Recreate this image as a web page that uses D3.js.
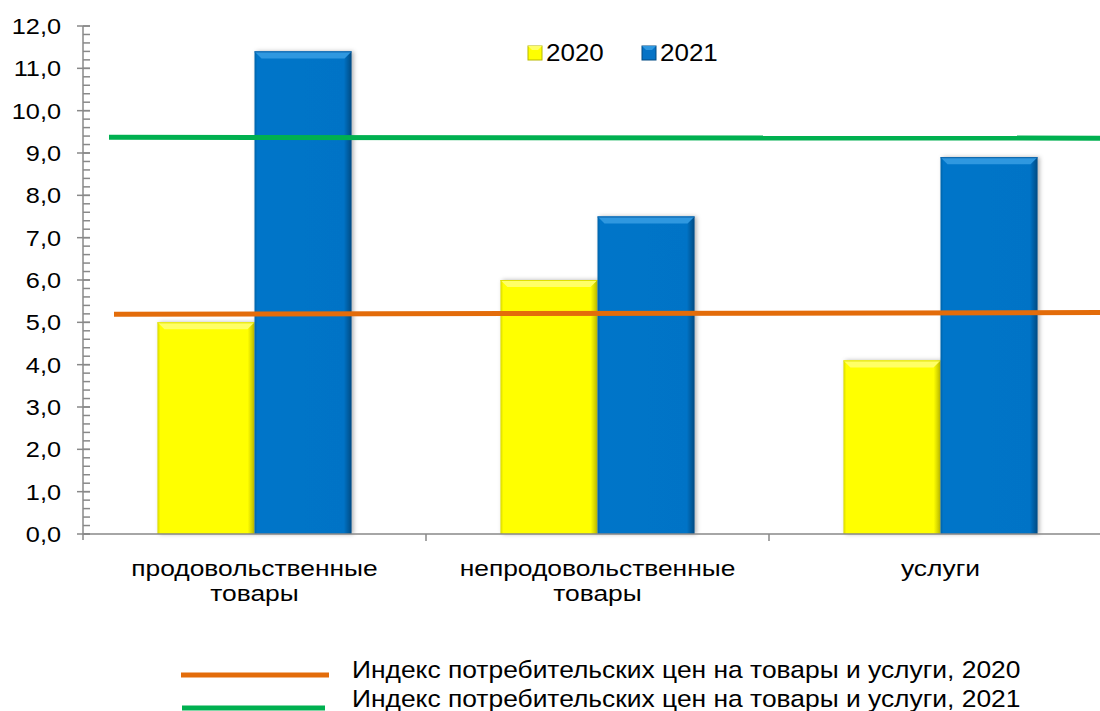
<!DOCTYPE html>
<html>
<head>
<meta charset="utf-8">
<script src="https://cdn.jsdelivr.net/npm/d3@7"></script>
<style>
  html, body { margin: 0; padding: 0; background: #fff; }
  svg { display: block; }
  text { font-family: "Liberation Sans", Arial, sans-serif; fill: #000; }
</style>
</head>
<body>
<svg id="chart" width="1100" height="711"></svg>
<script>
// ---- data ----
const categories = [["продовольственные", "товары"], ["непродовольственные", "товары"], ["услуги"]];
const seriesNames = ["2020", "2021"];
const values2020 = [5.0, 6.0, 4.1];
const values2021 = [11.4, 7.5, 8.9];
const cpi2020 = [5.19, 5.23];   // start / end of the reference line
const cpi2021 = [9.37, 9.35];
const yTicks = [0, 1, 2, 3, 4, 5, 6, 7, 8, 9, 10, 11, 12];
const lineLegend = ["Индекс потребительских цен на товары и услуги, 2020",
                    "Индекс потребительских цен на товары и услуги, 2021"];

// ---- layout ----
const svg = d3.select("#chart");
const W = 1100, H = 711;
const x0 = 83, x1 = 1112, yTop = 26, yBot = 534;

const y = d3.scaleLinear().domain([0, 12]).range([yBot, yTop]);
const catIdx = categories.map((d, i) => i);
const x = d3.scaleBand().domain(catIdx).range([x0, x1]).paddingInner(0.434).paddingOuter(0.217);
const xs = d3.scaleBand().domain(seriesNames).range([0, x.bandwidth()]);
const xLine = d3.scaleLinear().domain([0, 1]).range([109, 1106]);

const defs = svg.append("defs");
function grad(id, stops) {
  const g = defs.append("linearGradient").attr("id", id).attr("x1", "0").attr("x2", "1").attr("y1", "0").attr("y2", "0");
  stops.forEach(s => g.append("stop").attr("offset", s[0]).attr("stop-color", s[1]));
}
grad("gY", [[0, "#d8d800"], [0.03, "#ffff00"], [0.93, "#ffff00"], [1, "#b8b800"]]);
grad("gB", [[0, "#0563a8"], [0.03, "#0675c9"], [0.92, "#0673c6"], [1, "#034a82"]]);
const f = defs.append("filter").attr("id", "sh").attr("x", "-20%").attr("y", "-5%").attr("width", "140%").attr("height", "110%");
f.append("feDropShadow").attr("dx", 2).attr("dy", 0).attr("stdDeviation", 2).attr("flood-color", "#000").attr("flood-opacity", 0.3);

function txt(g, px, py, s, anchor, size, sx) {
  return g.append("text")
    .attr("transform", `translate(${px},${py}) scale(${sx},1)`)
    .attr("text-anchor", anchor)
    .style("font-size", size + "px")
    .text(s);
}

// ---- bars ----
const colors = { "2020": "url(#gY)", "2021": "url(#gB)" };
const bevel = { "2020": "#ffff66", "2021": "#2f98e0" };
const barData = [];
catIdx.forEach(i => {
  barData.push({ c: i, s: "2020", v: values2020[i] });
  barData.push({ c: i, s: "2021", v: values2021[i] });
});
const bars = svg.append("g");
barData.forEach(d => {
  const bx = x(d.c) + xs(d.s), bw = xs.bandwidth();
  const by = y(d.v), bh = yBot - by;
  const g = bars.append("g");
  g.append("rect").attr("x", bx).attr("y", by).attr("width", bw).attr("height", bh)
    .attr("fill", colors[d.s]).attr("filter", "url(#sh)");
  const b = 7;
  g.append("polygon")
    .attr("points", `${bx},${by} ${bx + bw},${by} ${bx + bw - b},${by + b} ${bx + b},${by + b}`)
    .attr("fill", bevel[d.s]);
  g.append("line").attr("x1", bx).attr("x2", bx + bw).attr("y1", by + 0.5).attr("y2", by + 0.5)
    .attr("stroke", d.s === "2020" ? "#e0e000" : "#0a5fa5").attr("stroke-width", 1);
});

// ---- axes ----
const axisColor = "#898989";
const ax = svg.append("g").attr("stroke", axisColor).attr("stroke-width", 1.5);
ax.append("line").attr("x1", x0).attr("x2", x0).attr("y1", yTop).attr("y2", yBot + 6);
ax.append("line").attr("x1", x0).attr("x2", W).attr("y1", yBot).attr("y2", yBot);
d3.range(0, 12.001, 0.2).forEach(v => {
  ax.append("line").attr("x1", x0).attr("x2", x0 + 7).attr("y1", y(v)).attr("y2", y(v));
});
yTicks.forEach(v => {
  ax.append("line").attr("x1", x0 - 6).attr("x2", x0 + 7).attr("y1", y(v)).attr("y2", y(v));
});
catIdx.slice(1).forEach(i => {
  const bx = x(i) - x.step() * x.paddingInner() / 2;
  ax.append("line").attr("x1", bx).attr("x2", bx).attr("y1", yBot).attr("y2", yBot + 7);
});

const labels = svg.append("g");
yTicks.forEach(v => {
  txt(labels, 61, y(v) + 8, d3.format(".1f")(v).replace(".", ","), "end", 22, 1.15);
});
categories.forEach((lines, i) => {
  const cx = x(i) + x.bandwidth() / 2;
  lines.forEach((l, k) => txt(labels, cx, 576 + k * 25, l, "middle", 22, 1.2));
});

// ---- reference lines ----
svg.append("line").attr("x1", xLine(0)).attr("x2", xLine(1))
  .attr("y1", y(cpi2021[0])).attr("y2", y(cpi2021[1]))
  .attr("stroke", "#00b050").attr("stroke-width", 5);
svg.append("line").attr("x1", xLine(0) + 5).attr("x2", xLine(1))
  .attr("y1", y(cpi2020[0])).attr("y2", y(cpi2020[1]))
  .attr("stroke", "#e36c0a").attr("stroke-width", 5);

// ---- top legend ----
const lg = svg.append("g");
[["2020", 528, "#ffff00", "#ffff66"], ["2021", 642, "#0673c6", "#2f98e0"]].forEach(([name, lx, c, cb]) => {
  lg.append("rect").attr("x", lx).attr("y", 46).attr("width", 14).attr("height", 14).attr("fill", c).attr("stroke", name === "2020" ? "#b8b800" : "#034a82").attr("stroke-width", 1);
  lg.append("polygon").attr("points", `${lx},46 ${lx + 14},46 ${lx + 10},50 ${lx + 4},50`).attr("fill", cb);
  txt(lg, lx + 18, 61, name, "start", 23, 1.13);
});

// ---- bottom legend ----
const bl = svg.append("g");
bl.append("line").attr("x1", 181).attr("x2", 329).attr("y1", 675).attr("y2", 675).attr("stroke", "#e36c0a").attr("stroke-width", 5);
bl.append("line").attr("x1", 182).attr("x2", 325).attr("y1", 708).attr("y2", 708).attr("stroke", "#00b050").attr("stroke-width", 5);
txt(bl, 352, 678, lineLegend[0], "start", 24, 1.1);
txt(bl, 352, 707, lineLegend[1], "start", 24, 1.1);
</script>
</body>
</html>
